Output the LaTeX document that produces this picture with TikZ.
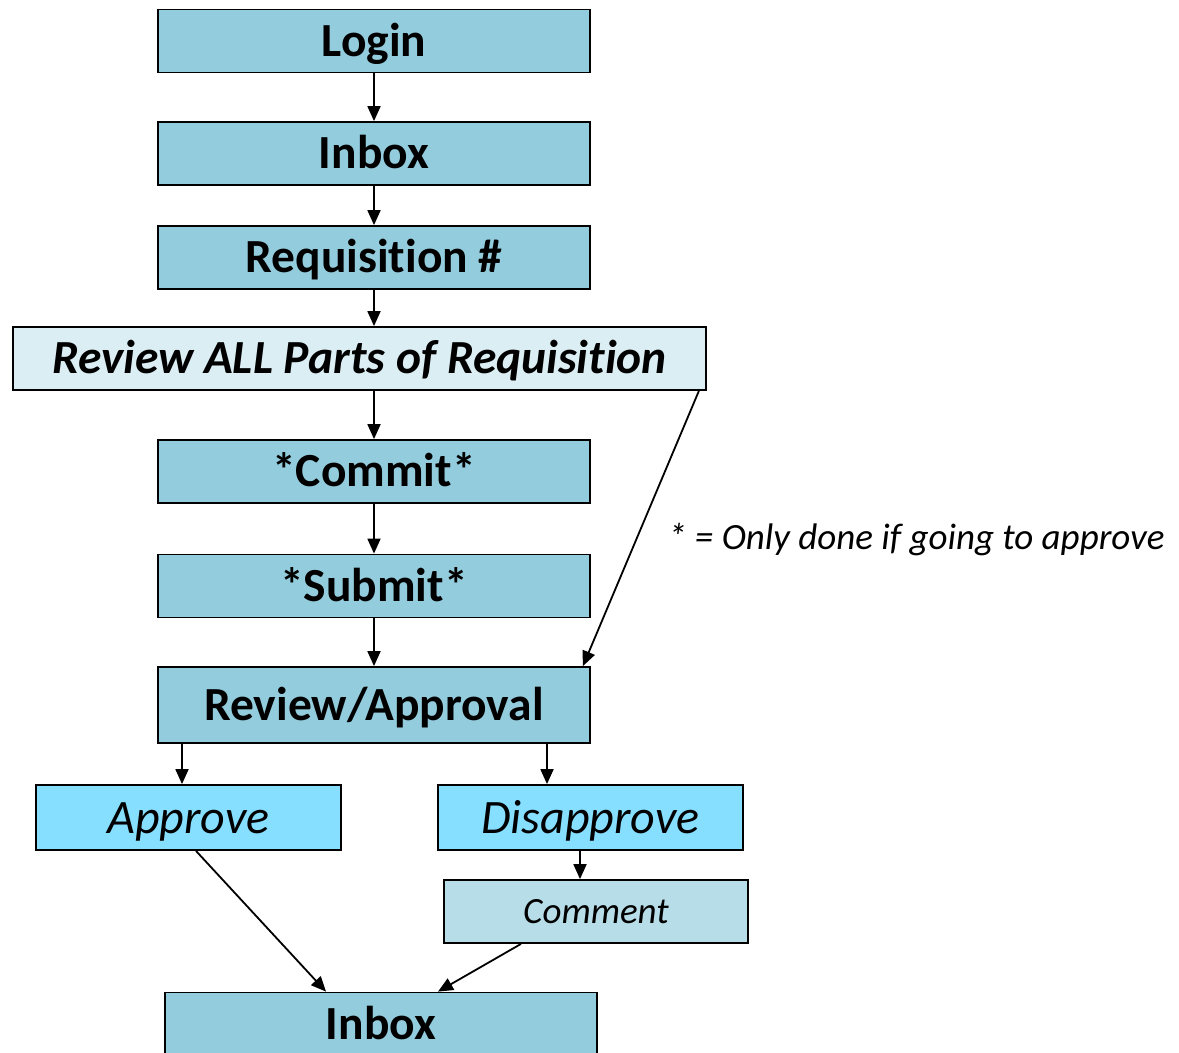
\documentclass[tikz,border=0pt]{standalone}
\usepackage{fontspec}
\setmainfont[Ligatures=NoCommon]{Carlito}
\usetikzlibrary{arrows.meta}
\definecolor{mainblue}{RGB}{147,205,221}
\definecolor{paleblue}{RGB}{219,238,244}
\definecolor{brightblue}{RGB}{134,223,255}
\definecolor{commentblue}{RGB}{183,222,232}
\tikzset{
  box/.style={draw=black, line width=1.8pt, rectangle, inner sep=0pt, align=center, text depth=0pt},
  mainbox/.style={box, fill=mainblue, minimum width=432pt, minimum height=63pt, text height=30pt, font=\fontsize{47.5}{54}\selectfont\bfseries},
  choice/.style={box, fill=brightblue, minimum width=305pt, minimum height=65pt, text height=31pt, font=\fontsize{48}{54}\selectfont\itshape},
  conn/.style={line width=1.8pt, -{Triangle[length=15pt,width=13pt]}}
}
\begin{document}
\begin{tikzpicture}[x=1pt,y=-1pt]
\clip (0,0) rectangle (1179,1053);
\fill[white] (0,0) rectangle (1179,1053);
\node[mainbox] (login) at (374,41) {Login};
\node[mainbox] (inbox) at (374,153.5) {Inbox};
\node[mainbox] (req) at (374,257.5) {Requisition \#};
\node[box, fill=paleblue, minimum width=693pt, minimum height=63pt, text height=30pt, font=\fontsize{47.5}{54}\selectfont\bfseries\itshape] (review) at (359.5,358.5) {Review ALL Parts of Requisition};
\node[mainbox] (commit) at (374,471.5) {*Commit*};
\node[mainbox] (submit) at (374,586) {*Submit*};
\node[mainbox, minimum height=76pt] (revapp) at (374,705) {Review/Approval};
\node[choice] (approve) at (188.5,817.5) {Approve};
\node[choice] (disapprove) at (590.5,817.5) {Disapprove};
\node[box, fill=commentblue, minimum width=304pt, minimum height=63pt, text height=24pt, font=\fontsize{37}{42}\selectfont\itshape] (comment) at (596,911.5) {Comment};
\node[mainbox] (inbox2) at (381,1024) {Inbox};
\node[anchor=west, inner sep=0pt, text height=24pt, text depth=0pt, font=\fontsize{37}{42}\selectfont\itshape] (note) at (668,537) {* = Only done if going to approve};

\draw[conn] (login) -- (inbox);
\draw[conn] (inbox) -- (req);
\draw[conn] (req.south) -- (req.south |- review.north);
\draw[conn] (review.south -| commit.north) -- (commit.north);
\draw[conn] (commit) -- (submit);
\draw[conn] (submit) -- (revapp);
\draw[conn] ([xshift=-8pt]review.south east) -- ([xshift=-8pt]revapp.north east);
\draw[conn] ([xshift=-192pt]revapp.south) -- ([xshift=-192pt]revapp.south |- approve.north);
\draw[conn] ([xshift=173pt]revapp.south) -- ([xshift=173pt]revapp.south |- disapprove.north);
\draw[conn] ([xshift=-10.5pt]disapprove.south) -- ([xshift=-16pt]comment.north);
\draw[conn] ([xshift=7.5pt]approve.south) -- ([xshift=-55pt]inbox2.north);
\draw[conn] ([xshift=-75pt]comment.south) -- ([xshift=57pt]inbox2.north);
\end{tikzpicture}
\end{document}
